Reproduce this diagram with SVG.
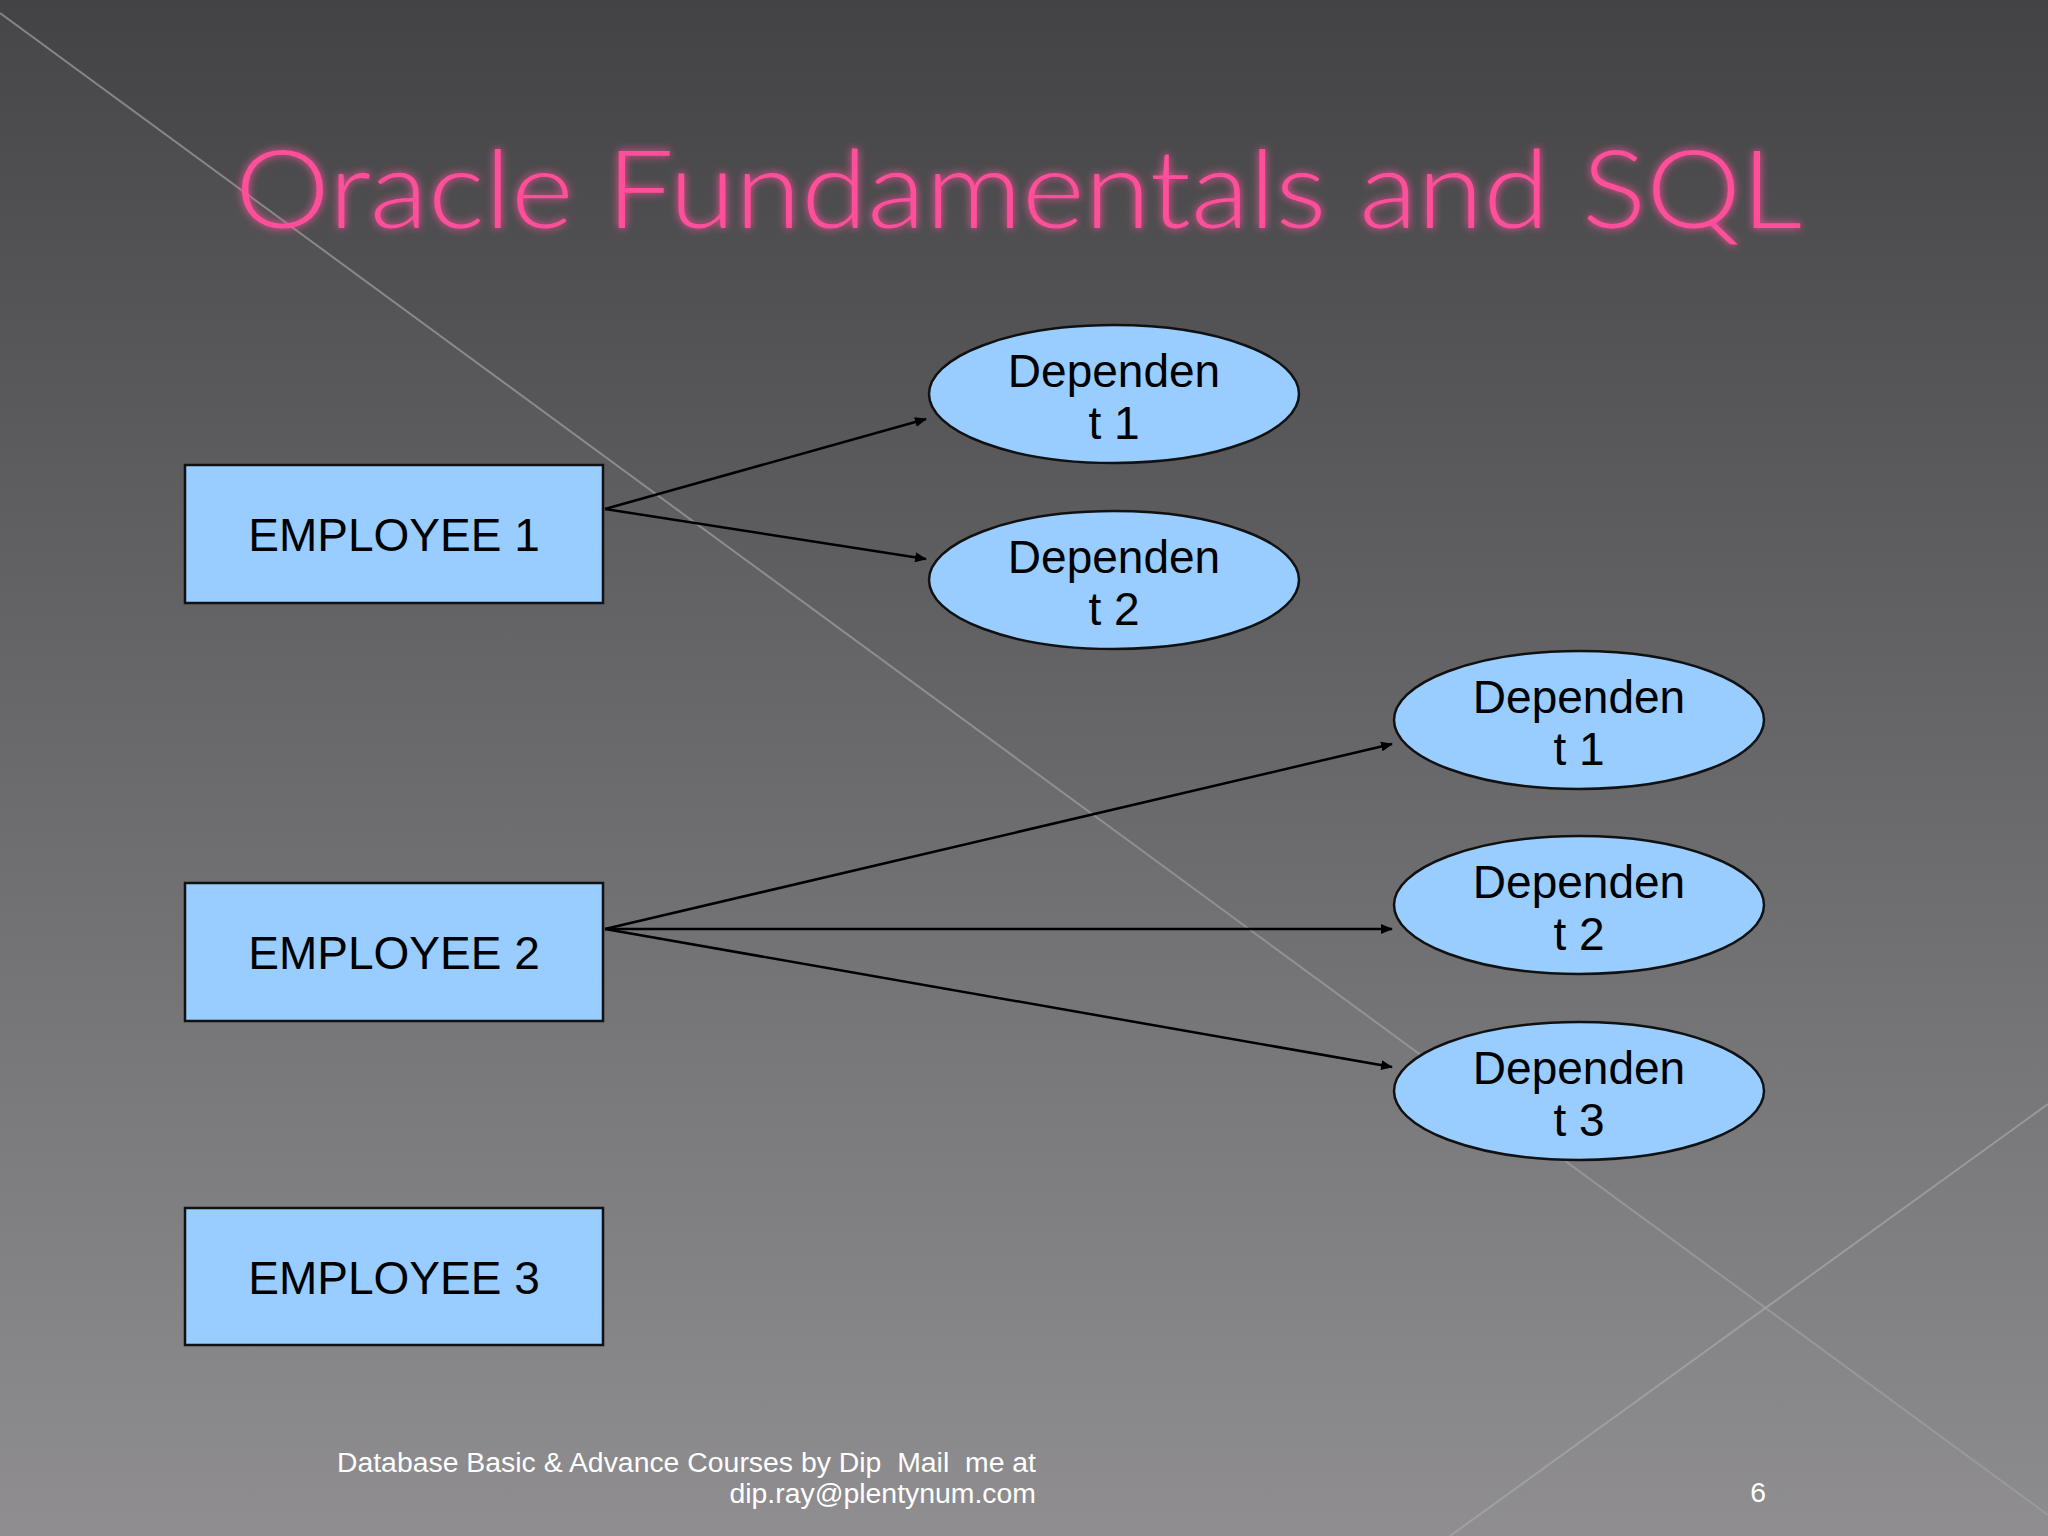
<svg xmlns="http://www.w3.org/2000/svg" width="2048" height="1536" viewBox="0 0 2048 1536">
<defs>
<linearGradient id="bg" x1="0" y1="0" x2="0" y2="1"><stop offset="0" stop-color="#434345"/><stop offset="1" stop-color="#8d8c8e"/></linearGradient>
<linearGradient id="bg2" x1="0" y1="0" x2="0" y2="1"><stop offset="0" stop-color="#4a4a4c"/><stop offset="1" stop-color="#918f92"/></linearGradient>
<filter id="glow" x="-5%" y="-20%" width="110%" height="140%"><feGaussianBlur stdDeviation="4" result="b"/><feMerge><feMergeNode in="b"/><feMergeNode in="SourceGraphic"/></feMerge></filter>
<marker id="ah" markerWidth="12" markerHeight="10" refX="11" refY="5" orient="auto" markerUnits="userSpaceOnUse"><path d="M0,0 L12,5 L0,10 z" fill="#000"/></marker>
<style>
.box{fill:#99ccff;stroke:#111;stroke-width:2.5}
.ell{fill:#99ccff;stroke:#111;stroke-width:2.5}
.lbl{font-family:"Liberation Sans",Arial,sans-serif;font-size:46px;fill:#000;text-anchor:middle}
.con{stroke:#000;stroke-width:2.5;fill:none;marker-end:url(#ah)}
.foot{font-family:"Liberation Sans",Arial,sans-serif;font-size:28.4px;fill:#fff;text-anchor:end}
</style>
</defs>
<rect width="2048" height="1536" fill="url(#bg)"/>
<path d="M0,13 L2048,1515 L2048,1536 L0,1536 z" fill="url(#bg2)" opacity="0.5"/>
<line x1="0" y1="13" x2="2048" y2="1515" stroke="#a0a0a2" stroke-width="2" opacity="0.7"/>
<line x1="1450" y1="1536" x2="2048" y2="1104" stroke="#a8a8aa" stroke-width="2" opacity="0.7"/>
<text x="235" y="228" font-family="Lato,'Open Sans',sans-serif" font-weight="300" font-size="108" fill="#ff4f9a" filter="url(#glow)" textLength="1567" lengthAdjust="spacingAndGlyphs">Oracle Fundamentals and SQL</text>
<g id="connectors">
<line class="con" x1="605" y1="509" x2="926" y2="419"/>
<line class="con" x1="605" y1="509" x2="926" y2="559"/>
<line class="con" x1="605" y1="929" x2="1392" y2="744"/>
<line class="con" x1="605" y1="929" x2="1392" y2="929"/>
<line class="con" x1="605" y1="929" x2="1392" y2="1067"/>
</g>
<g id="emp1"><rect class="box" x="185" y="465" width="418" height="138"/><text class="lbl" x="394" y="551">EMPLOYEE 1</text></g>
<g id="emp2"><rect class="box" x="185" y="883" width="418" height="138"/><text class="lbl" x="394" y="969">EMPLOYEE 2</text></g>
<g id="emp3"><rect class="box" x="185" y="1208" width="418" height="137"/><text class="lbl" x="394" y="1294">EMPLOYEE 3</text></g>
<g id="d11"><ellipse class="ell" cx="1114" cy="394" rx="185" ry="69"/><text class="lbl" x="1114" y="387">Dependen</text><text class="lbl" x="1114" y="439">t 1</text></g>
<g id="d12"><ellipse class="ell" cx="1114" cy="580" rx="185" ry="69"/><text class="lbl" x="1114" y="573">Dependen</text><text class="lbl" x="1114" y="625">t 2</text></g>
<g id="d21"><ellipse class="ell" cx="1579" cy="720" rx="185" ry="69"/><text class="lbl" x="1579" y="713">Dependen</text><text class="lbl" x="1579" y="765">t 1</text></g>
<g id="d22"><ellipse class="ell" cx="1579" cy="905" rx="185" ry="69"/><text class="lbl" x="1579" y="898">Dependen</text><text class="lbl" x="1579" y="950">t 2</text></g>
<g id="d23"><ellipse class="ell" cx="1579" cy="1091" rx="185" ry="69"/><text class="lbl" x="1579" y="1084">Dependen</text><text class="lbl" x="1579" y="1136">t 3</text></g>
<text class="foot" x="1036" y="1472" xml:space="preserve">Database Basic &amp; Advance Courses by Dip  Mail  me at</text>
<text class="foot" x="1036" y="1503">dip.ray@plentynum.com</text>
<text class="foot" x="1766" y="1502" font-size="38">6</text>
</svg>
